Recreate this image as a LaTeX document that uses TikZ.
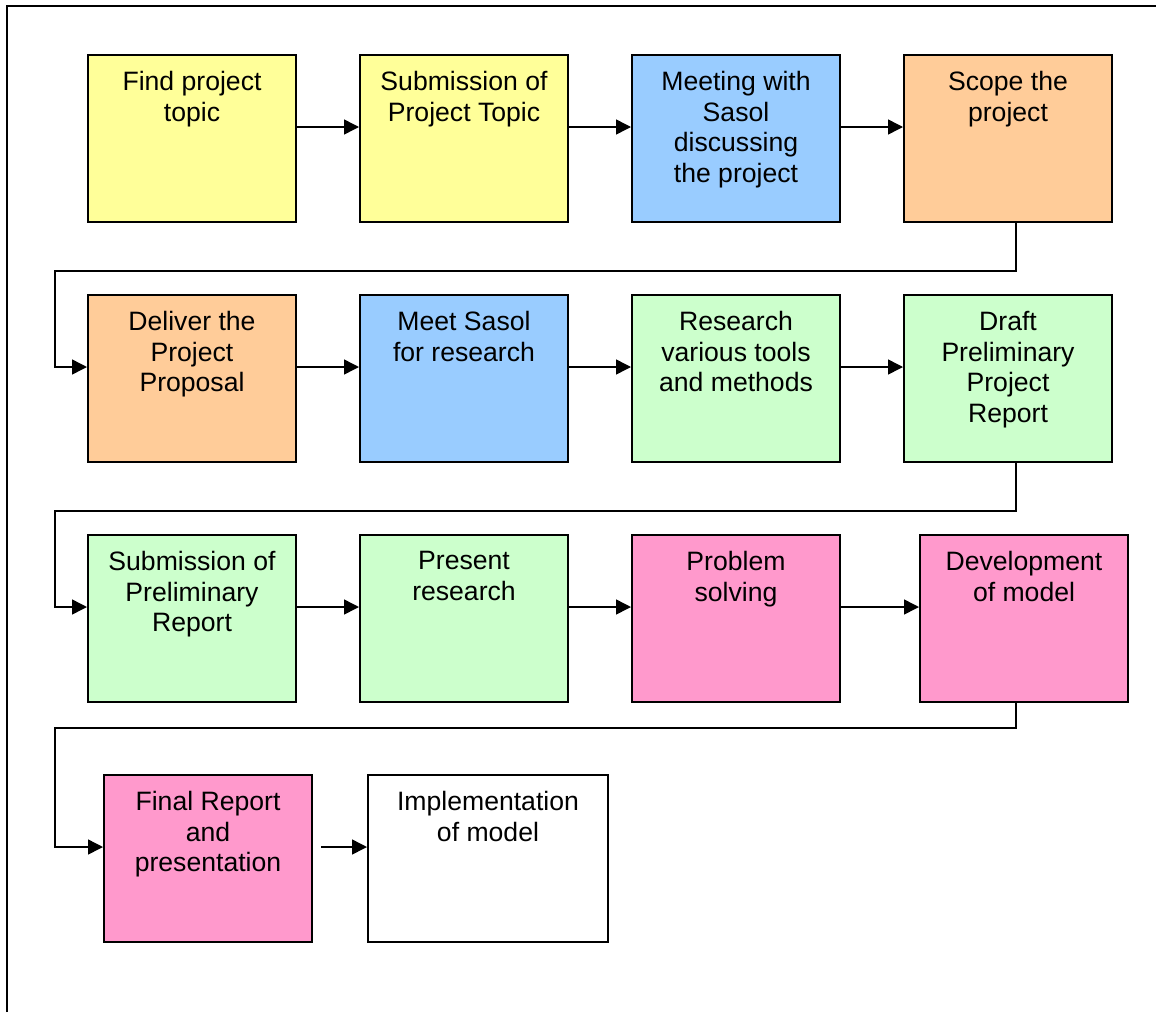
\documentclass[tikz,border=0pt]{standalone}
\usepackage{fontspec}
\setmainfont{Liberation Sans}
\usetikzlibrary{arrows.meta}
\definecolor{planyellow}{HTML}{FFFF99}
\definecolor{planblue}{HTML}{99CCFF}
\definecolor{planorange}{HTML}{FFCC99}
\definecolor{plangreen}{HTML}{CCFFCC}
\definecolor{planpink}{HTML}{FF99CC}

\begin{document}
\begin{tikzpicture}[x=1pt, y=-1pt,
    font=\fontsize{26.6}{30.6}\selectfont,
    stepbox/.style={draw, line width=2pt, minimum width=208pt,
      minimum height=167pt, inner sep=0pt},
    boxtext/.style={anchor=north, align=center, inner sep=0pt, yshift=-17pt},
    flow/.style={line width=1.5pt, -{Triangle[length=15pt,width=15pt]}}]
    \useasboundingbox (0,0) rectangle (1156,1012);
    % frame
    \draw[line width=2pt] (7,1012) -- (7,6) -- (1156,6);
    % row 1
    \node[stepbox, fill=planyellow, label={[boxtext]north:{Find project\\topic}}] (find) at (192,138.5) {};
    \node[stepbox, fill=planyellow, label={[boxtext]north:{Submission of\\Project Topic}}] (submit) at (464,138.5) {};
    \node[stepbox, fill=planblue, label={[boxtext]north:{Meeting with\\Sasol\\discussing\\the project}}] (meeting) at (736,138.5) {};
    \node[stepbox, fill=planorange, label={[boxtext]north:{Scope the\\project}}] (scope) at (1008,138.5) {};
    % row 2
    \node[stepbox, fill=planorange, label={[boxtext]north:{Deliver the\\Project\\Proposal}}] (deliver) at (192,378.5) {};
    \node[stepbox, fill=planblue, label={[boxtext]north:{Meet Sasol\\for research}}] (meet) at (464,378.5) {};
    \node[stepbox, fill=plangreen, label={[boxtext]north:{Research\\various tools\\and methods}}] (research) at (736,378.5) {};
    \node[stepbox, fill=plangreen, label={[boxtext]north:{Draft\\Preliminary\\Project\\Report}}] (draft) at (1008,378.5) {};
    % row 3
    \node[stepbox, fill=plangreen, label={[boxtext]north:{Submission of\\Preliminary\\Report}}] (prelim) at (192,618.5) {};
    \node[stepbox, fill=plangreen, label={[boxtext]north:{Present\\research}}] (present) at (464,618.5) {};
    \node[stepbox, fill=planpink, label={[boxtext]north:{Problem\\solving}}] (problem) at (736,618.5) {};
    \node[stepbox, fill=planpink, label={[boxtext]north:{Development\\of model}}] (develop) at (1024,618.5) {};
    % row 4
    \node[stepbox, fill=planpink, label={[boxtext]north:{Final Report\\and\\presentation}}] (final) at (208,858.5) {};
    \node[stepbox, fill=white, minimum width=240pt, label={[boxtext]north:{Implementation\\of model}}] (implement) at (488,858.5) {};
    % arrows along the rows
    \draw[flow] ([yshift=11.5pt]find.east) -- ([yshift=11.5pt]submit.west);
    \draw[flow] ([yshift=11.5pt]submit.east) -- ([yshift=11.5pt]meeting.west);
    \draw[flow] ([yshift=11.5pt]meeting.east) -- ([yshift=11.5pt]scope.west);
    \draw[flow] ([yshift=11.5pt]deliver.east) -- ([yshift=11.5pt]meet.west);
    \draw[flow] ([yshift=11.5pt]meet.east) -- ([yshift=11.5pt]research.west);
    \draw[flow] ([yshift=11.5pt]research.east) -- ([yshift=11.5pt]draft.west);
    \draw[flow] ([yshift=11.5pt]prelim.east) -- ([yshift=11.5pt]present.west);
    \draw[flow] ([yshift=11.5pt]present.east) -- ([yshift=11.5pt]problem.west);
    \draw[flow] ([yshift=11.5pt]problem.east) -- ([yshift=11.5pt]develop.west);
    \draw[flow, shorten <=8pt] ([yshift=11.5pt]final.east) -- ([yshift=11.5pt]implement.west);
    % returns to the next row
    \draw[flow] ([xshift=8pt]scope.south) -- ++(0,48)
      -| ([xshift=-32pt,yshift=11.5pt]deliver.west) -- ([yshift=11.5pt]deliver.west);
    \draw[flow] ([xshift=8pt]draft.south) -- ++(0,48)
      -| ([xshift=-32pt,yshift=11.5pt]prelim.west) -- ([yshift=11.5pt]prelim.west);
    \draw[flow] ([xshift=-8pt]develop.south) -- ++(0,25)
      -| ([xshift=-48pt,yshift=11.5pt]final.west) -- ([yshift=11.5pt]final.west);
  \end{tikzpicture}
\end{document}
